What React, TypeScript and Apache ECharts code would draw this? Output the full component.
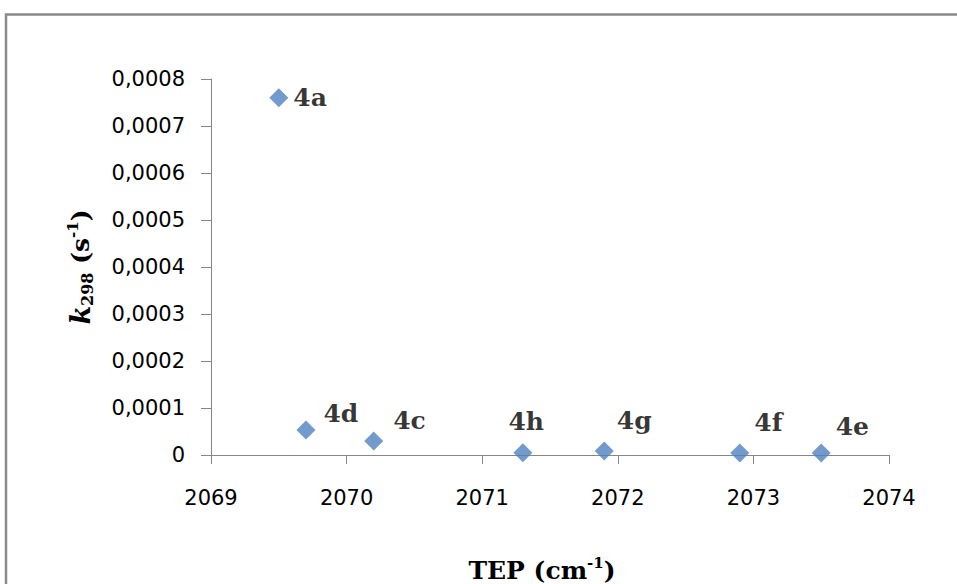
import React, { useEffect, useRef } from "react";
import * as echarts from "echarts";

const compounds = ["4a", "4d", "4c", "4h", "4g", "4f", "4e"];
const tepValues = [2069.5, 2069.7, 2070.2, 2071.3, 2071.9, 2072.9, 2073.5];
const k298Values = [0.00076, 0.000053, 0.00003, 0.000005, 0.0000085, 0.000004, 0.000004];
const yTickLabels = ["0", "0,0001", "0,0002", "0,0003", "0,0004", "0,0005", "0,0006", "0,0007", "0,0008"];
const xTickLabels = ["2069", "2070", "2071", "2072", "2073", "2074"];

// label placement tweaks (px offsets from the default "right" position)
const labelOffsets: number[][] = [
  [0, 0],
  [3, -17],
  [5, -20],
  [-29, -31],
  [-2, -31],
  [0, -31],
  [0, -27],
];

const AXIS_COLOR = "#868686";
const SERIF = "'DejaVu Serif', 'Liberation Serif', serif";
const SANS = "'DejaVu Sans', Verdana, sans-serif";

export default function App() {
  const ref = useRef<HTMLDivElement>(null);

  useEffect(() => {
    if (!ref.current) return;
    const chart = echarts.init(ref.current, undefined, { renderer: "svg" });

    const data = tepValues.map((x, i) => ({
      value: [x, k298Values[i]],
      name: compounds[i],
      label: { offset: labelOffsets[i] },
    }));

    chart.setOption({
      animation: false,
      backgroundColor: "#ffffff",
      grid: {
        left: 211,
        top: 79,
        width: 678,
        height: 376,
        containLabel: false,
        outerBoundsMode: "none",
      },
      xAxis: {
        type: "value",
        min: 2069,
        max: 2074,
        interval: 1,
        splitLine: { show: false },
        axisLine: { show: true, onZero: false, lineStyle: { color: AXIS_COLOR, width: 1 } },
        axisTick: { show: true, inside: false, length: 9, lineStyle: { color: AXIS_COLOR } },
        axisLabel: {
          margin: 32,
          color: "#000",
          fontFamily: SANS,
          fontSize: 21,
          formatter: (v: number) => xTickLabels[Math.round(v - 2069)] ?? String(v),
        },
        name: "{b|TEP (cm}{sup|-1}{b|)}",
        nameLocation: "middle",
        nameGap: 100,
        nameTextStyle: {
          padding: [0, 16, 0, 0],
          rich: {
            b: { fontFamily: SERIF, fontWeight: "bold", fontSize: 25, lineHeight: 30, color: "#000" },
            sup: { fontFamily: SERIF, fontWeight: "bold", fontSize: 15, lineHeight: 16, verticalAlign: "top", color: "#000" },
          },
        },
      },
      yAxis: {
        type: "value",
        min: 0,
        max: 0.0008,
        interval: 0.0001,
        splitLine: { show: false },
        axisLine: { show: true, lineStyle: { color: AXIS_COLOR, width: 1 } },
        axisTick: { show: true, inside: false, length: 10, lineStyle: { color: AXIS_COLOR } },
        axisLabel: {
          margin: 26,
          color: "#000",
          fontFamily: SANS,
          fontSize: 21,
          formatter: (v: number) => yTickLabels[Math.round(v / 0.0001)] ?? String(v),
        },
        name: "{k|k}{sub|298}{b| (s}{sup|-1}{b|)}",
        nameLocation: "middle",
        nameGap: 116,
        nameRotate: 90,
        nameTextStyle: {
          rich: {
            k: { fontFamily: SERIF, fontWeight: "bold", fontStyle: "italic", fontSize: 27, lineHeight: 30, color: "#000" },
            b: { fontFamily: SERIF, fontWeight: "bold", fontSize: 25, lineHeight: 30, color: "#000" },
            sub: { fontFamily: SERIF, fontWeight: "bold", fontSize: 16, lineHeight: 16, verticalAlign: "bottom", color: "#000" },
            sup: { fontFamily: SERIF, fontWeight: "bold", fontSize: 15, lineHeight: 16, verticalAlign: "top", color: "#000" },
          },
        },
      },
      series: [
        {
          type: "scatter",
          symbol: "diamond",
          symbolSize: 19,
          itemStyle: { color: "#4F81BD" },
          label: {
            show: true,
            position: "right",
            distance: 5,
            formatter: (p: any) => p.name,
            fontFamily: SERIF,
            fontWeight: "bold",
            fontSize: 25,
            color: "#000",
          },
          data,
        },
      ],
      graphic: [
        {
          type: "polyline",
          shape: { points: [[6, 584], [6, 14.5], [957, 14.5]] },
          style: { stroke: "#8a8a8a", lineWidth: 2.5, fill: "none" },
          z: 10,
        },
      ],
    });

    return () => chart.dispose();
  }, []);

  return (
    <div
      ref={ref}
      style={{ position: "fixed", left: 0, top: 0, width: 957, height: 584, background: "#fff" }}
    />
  );
}
